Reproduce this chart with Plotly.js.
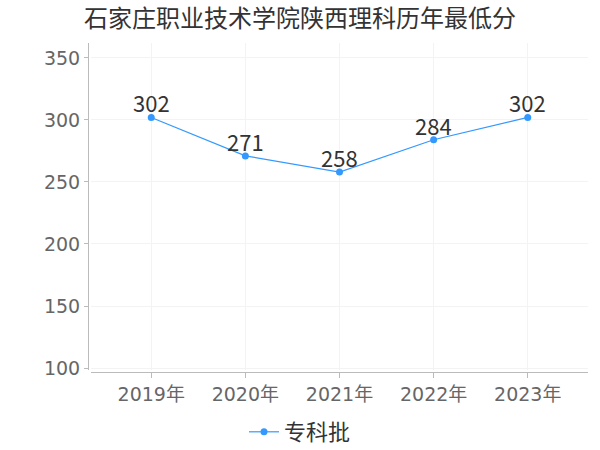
<!DOCTYPE html>
<html><head><meta charset="utf-8">
<script src="https://cdn.plot.ly/plotly-3.0.1.min.js"></script>
<style>body{margin:0}#c{width:600px;height:450px}</style>
</head><body><div id="c"></div>
<script>
const years = ["2019年","2020年","2021年","2022年","2023年"];
const scores = [302, 271, 258, 284, 302];
const seriesName = "专科批";
const titleText = "石家庄职业技术学院陕西理科历年最低分";
const F = '"DejaVu Sans", "Noto Sans CJK SC", sans-serif';
const FC = '"Noto Sans CJK SC", sans-serif';
const labels = years.map((y, i) => ({
  x: y, y: scores[i], text: String(scores[i]), showarrow: false,
  xanchor: 'center', yanchor: 'bottom', yshift: -3,
  font: {size: 22, color: '#333', family: FC}
}));
Plotly.newPlot('c', [{
  x: years, y: scores, name: seriesName, type: 'scatter', mode: 'lines+markers',
  line: {color: '#3399ff', width: 1.2}, marker: {color: '#3399ff', size: 7}
}], {
  width: 600, height: 450,
  margin: {l: 88, r: 12, t: 43, b: 78},
  paper_bgcolor: '#fff', plot_bgcolor: '#fff',
  font: {family: F, color: '#666'},
  title: {text: titleText, x: 0.14, xanchor: 'left', y: 0.958, yanchor: 'middle', font: {size: 24, color: '#333', family: FC}},
  xaxis: {domain: [0.006, 1], range: [-0.64, 4.64], anchor: 'free', position: 0,
    showline: true, linecolor: '#bbb', linewidth: 1, ticks: 'outside', ticklen: 5, tickcolor: '#bbb',
    showgrid: true, gridcolor: '#f3f3f3', tickfont: {size: 19, color: '#666', family: F}, zeroline: false},
  yaxis: {domain: [0.006, 1], range: [98.4, 362], anchor: 'free', position: 0,
    tickvals: [100,150,200,250,300,350],
    showline: true, linecolor: '#bbb', linewidth: 1, ticks: 'outside', ticklen: 4, tickcolor: '#bbb',
    showgrid: true, gridcolor: '#f3f3f3', tickfont: {size: 19, color: '#666', family: F}, zeroline: false},
  annotations: labels,
  showlegend: true,
  legend: {orientation: 'h', x: 0.5, xanchor: 'center', xref: 'container', y: 0.04, yref: 'container', yanchor: 'middle',
    itemwidth: 30, font: {size: 22, color: '#333', family: FC}}
}, {displayModeBar: false});
</script></body></html>
